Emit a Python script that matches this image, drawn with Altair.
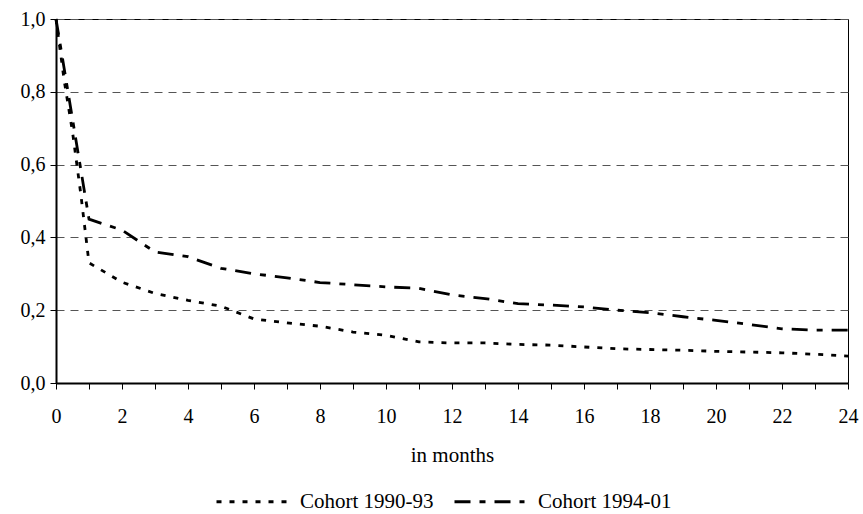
import altair as alt
import pandas as pd

months_a = [0, 0.25, 0.5, 0.75, 1, 2, 3, 4, 5, 6, 7, 8, 9, 10, 11, 12,
            13, 14, 15, 16, 17, 18, 19, 20, 21, 22, 23, 24]
cohort_9093 = [1.0, 0.83, 0.69, 0.52, 0.33, 0.277, 0.246, 0.227, 0.211, 0.176,
               0.165, 0.156, 0.14, 0.131, 0.113, 0.11,
               0.11, 0.106, 0.104, 0.099, 0.094, 0.092, 0.09, 0.087, 0.085,
               0.083, 0.079, 0.074]
months_b = [0, 1, 2, 3, 4, 5, 6, 7, 8, 9, 10, 11, 12,
            13, 14, 15, 16, 17, 18, 19, 20, 21, 22, 23, 24]
cohort_9401 = [1.0, 0.45, 0.42, 0.36, 0.347, 0.315, 0.30, 0.289, 0.276, 0.27,
               0.264, 0.26, 0.242, 0.232, 0.218, 0.214, 0.209, 0.2, 0.193,
               0.182, 0.172, 0.161, 0.149, 0.145, 0.145]
series_names = ["Cohort 1990-93", "Cohort 1994-01"]

rows = []
for m, v in zip(months_a, cohort_9093):
    rows.append({"month": m, "value": v, "series": series_names[0]})
for m, v in zip(months_b, cohort_9401):
    rows.append({"month": m, "value": v, "series": series_names[1]})
df = pd.DataFrame(rows)

FONT = "Liberation Serif"

chart = alt.Chart(df).mark_line(color="black", strokeWidth=2.8).encode(
    x=alt.X("month:Q",
            scale=alt.Scale(domain=[0, 24], nice=False, zero=False),
            axis=alt.Axis(values=list(range(0, 25)),
                          labelExpr="datum.value % 2 == 0 ? datum.label : ''",
                          title="in months", grid=False,
                          domainColor="black", domainWidth=2,
                          tickColor="black", tickSize=6, tickWidth=1,
                          labelPadding=17, titlePadding=18,
                          labelFont=FONT, labelFontSize=20, labelColor="black",
                          titleFont=FONT, titleFontSize=21, titleFontWeight="normal",
                          titleColor="black", labelFlush=False)),
    y=alt.Y("value:Q",
            scale=alt.Scale(domain=[0, 1], nice=False),
            axis=alt.Axis(values=[0, 0.2, 0.4, 0.6, 0.8, 1.0],
                          labelExpr="replace(format(datum.value, '.1f'), '.', ',')",
                          title=None, grid=True, gridColor="#555555",
                          gridDash=[8, 6], gridWidth=1,
                          domainColor="black", domainWidth=2,
                          tickColor="black", tickSize=6, tickWidth=1,
                          labelPadding=5,
                          labelFont=FONT, labelFontSize=20, labelColor="black")),
    strokeDash=alt.StrokeDash("series:N",
                              scale=alt.Scale(domain=series_names,
                                              range=[[5, 8], [16, 9, 6, 9]]),
                              legend=alt.Legend(title=None, orient="none",
                                                legendX=159, legendY=446,
                                                direction="horizontal",
                                                symbolType="stroke",
                                                symbolSize=4900,
                                                symbolStrokeColor="black",
                                                symbolStrokeWidth=2.8,
                                                labelFont=FONT, labelFontSize=21,
                                                labelColor="black",
                                                columnPadding=14,
                                                labelOffset=12,
                                                labelLimit=300)),
).properties(
    width=792, height=364,
    autosize=alt.AutoSizeParams(type="none"),
    padding={"left": 56, "top": 19, "right": 15, "bottom": 131},
    background="white",
).configure_view(stroke="black", strokeWidth=1)

chart.save("out.html", embed_options={"renderer": "svg", "actions": False})
